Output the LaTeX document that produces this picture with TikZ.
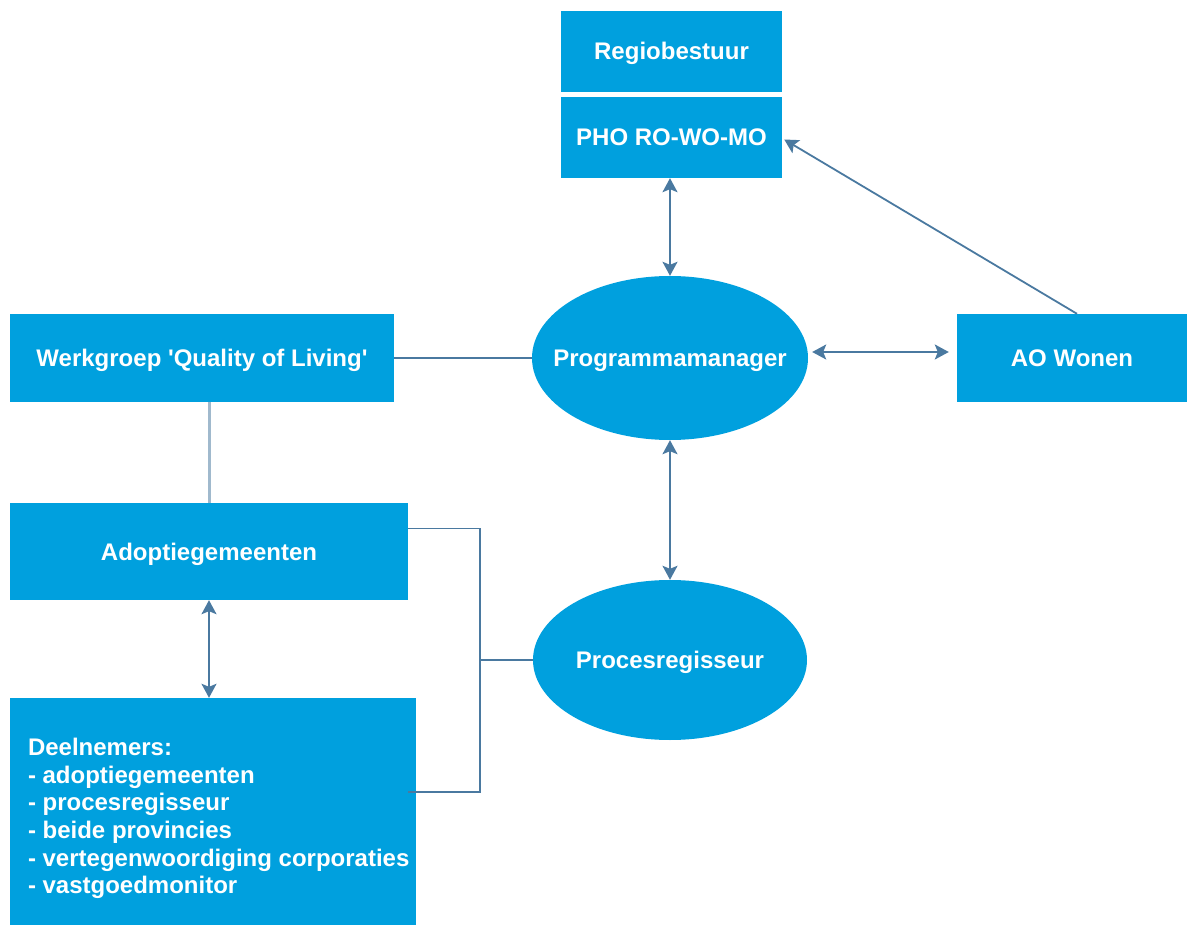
\documentclass[tikz,border=0pt]{standalone}
\usepackage{fontspec}
\setmainfont{Liberation Sans}
\usetikzlibrary{arrows.meta,shapes.geometric}
\definecolor{boxblue}{RGB}{0,160,222}
\definecolor{linkblue}{RGB}{74,121,160}
\definecolor{fadeblue}{RGB}{160,185,205}
\begin{document}
\begin{tikzpicture}[x=1pt,y=-1pt,
	box/.style={rectangle,fill=boxblue,text=white,font=\bfseries\fontsize{24}{28}\selectfont,inner sep=0pt,text height=17pt,text depth=0pt},
	oval/.style={ellipse,fill=boxblue,text=white,font=\bfseries\fontsize{24}{28}\selectfont,inner xsep=-20pt,inner ysep=0pt,text height=17pt,text depth=0pt},
	listtext/.style={text=white,font=\bfseries\fontsize{24}{27.6}\selectfont,align=left,inner sep=0pt},
	link/.style={draw=linkblue,line width=1.8pt,>={Stealth[length=14pt,width=15pt,inset=3pt,fill=linkblue]}},
	plain/.style={draw=linkblue,line width=1.8pt},
	faint/.style={draw=fadeblue,line width=3pt}
]
	\useasboundingbox (0,0) rectangle (1187,925);

	\node[box,minimum width=221pt,minimum height=81pt] (regio) at (671.5,51.5) {Regiobestuur};
	\node[box,minimum width=221pt,minimum height=81pt] (pho) at (671.5,137.5) {PHO RO-WO-MO};
	\node[oval,minimum width=276pt,minimum height=164pt] (prog) at (670,358) {Programmamanager};
	\node[box,minimum width=384pt,minimum height=88pt] (werk) at (202,358) {Werkgroep \textquotesingle Quality of Living\textquotesingle};
	\node[box,minimum width=230pt,minimum height=88pt] (ao) at (1072,358) {AO Wonen};
	\node[box,minimum width=398pt,minimum height=97pt] (adop) at (209,551.5) {Adoptiegemeenten};
	\node[oval,minimum width=274pt,minimum height=160pt] (proc) at (670,660) {Procesregisseur};
	\node[box,minimum width=406pt,minimum height=227pt] (deel) at (213,811.5) {};
	\node[listtext,anchor=west] (deeltxt) at ([shift={(18pt,-7pt)}]deel.west)
		{Deelnemers:\\- adoptiegemeenten\\- procesregisseur\\- beide provincies\\- vertegenwoordiging corporaties\\- vastgoedmonitor};

	\coordinate (hub) at (480,660);

	\draw[link,<->] (prog.north |- pho.south) -- (prog.north);
	\draw[plain] (werk.east) -- (prog.west);
	\draw[link,<->] ([shift={(4pt,6pt)}]prog.east) -- ([shift={(-8pt,6pt)}]ao.west);
	\draw[link,->] ([xshift=5pt]ao.north) -- ([shift={(2pt,-2pt)}]pho.east);
	\draw[link,<->] (prog.south) -- (proc.north);
	\draw[faint] (werk.south -| adop.north) -- (adop.north);
	\draw[link,<->] (adop.south) -- (adop.south |- deel.north);
	\draw[plain] ([yshift=23pt]adop.east) -| (hub) |- ([shift={(-8pt,19.5pt)}]deel.east);
	\draw[plain] (hub) -- (proc.west);

\end{tikzpicture}
\end{document}
